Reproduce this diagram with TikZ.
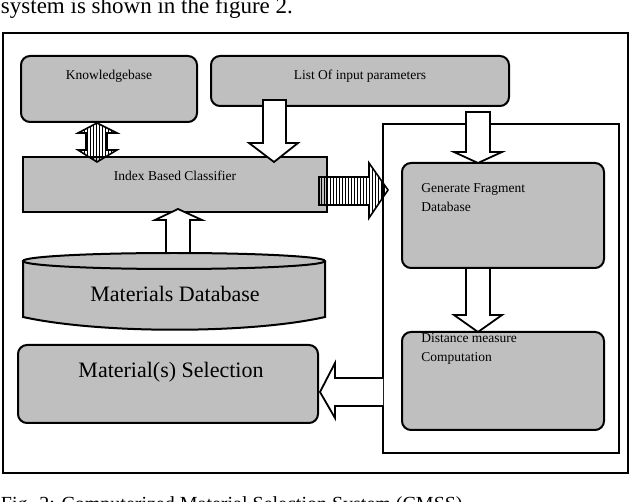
\documentclass[tikz,border=0pt]{standalone}
\usepackage{fontspec}
\setmainfont{Liberation Serif}
\usetikzlibrary{patterns}

\begin{document}
\begin{tikzpicture}[x=1pt,y=-1pt,line width=2pt,
  box/.style={draw,fill=black!25,rounded corners=9pt},
  small/.style={font=\fontsize{13.5}{19}\selectfont},
  big/.style={font=\fontsize{22}{24}\selectfont},
  blk/.style={draw,fill=white,line width=1.8pt,line join=miter},
  strp/.style={draw,pattern=vertical lines,line width=1.6pt}]
\useasboundingbox (0,0) rectangle (632,502);

% surrounding text
\node[anchor=base west,font=\fontsize{23}{25}\selectfont,inner sep=0] (top) at (0,14) {system is shown in the figure 2.};
\node[anchor=base west,font=\fontsize{20}{22}\selectfont,inner sep=0] (cap) at (0,510) {Fig. 2: Computerized Material Selection System (CMSS)};

% frames
\draw (3,33) rectangle (628,473);
\draw (383,124) rectangle (619,453);

% boxes
\draw[box] (21,56) rectangle (197,122);
\node[small] (kb) at (109,76) {Knowledgebase};
\draw[box] (211,56) rectangle (509,106);
\node[small] (lip) at (360,76) {List Of input parameters};
\draw[box,rounded corners=0] (23,157) rectangle (327,212);
\node[small] (ibc) at (175,176) {Index Based Classifier};
\draw[box] (402,163) rectangle (604,268);
\node[small,anchor=base west,align=left] (gen) at (417,212) {Generate Fragment\\Database};
\draw[box] (402,332) rectangle (604,430);
\node[small,anchor=base west,align=left] (dist) at (417,362) {Distance measure\\Computation};
\draw[box] (18,345) rectangle (318,423);
\node[big] (sel) at (171,372) {Material(s) Selection};

% database cylinder
\draw[fill=black!25] (23,261) -- (23,317) .. controls (100,334) and (250,334) .. (325,317) -- (325,261);
\draw[fill=black!25] (174,261) ellipse (151 and 8);
\node[big] (db) at (175,294) {Materials Database};

% block arrows
\draw[strp] (86,133) -- (78,133) -- (97,123) -- (117,133) -- (107,133) -- (107,150)
  -- (117,150) -- (97,162) -- (78,150) -- (86,150) -- cycle;
\draw[blk] (263,100) -- (263,143) -- (249,143) -- (274,162) -- (298,143) -- (286,143) -- (286,100) -- cycle;
\draw[blk] (166,253) -- (166,220) -- (155,220) -- (178,209) -- (202,220) -- (190,220) -- (190,253) -- cycle;
\draw[strp] (319,177) -- (369,177) -- (369,163) -- (388,190) -- (369,218) -- (369,205) -- (319,205) -- cycle;
\draw[blk] (466,112) -- (466,152) -- (454,152) -- (478,163) -- (502,152) -- (490,152) -- (490,112) -- cycle;
\draw[blk] (466,268) -- (466,315) -- (454,315) -- (478,332) -- (502,315) -- (490,315) -- (490,268) -- cycle;
\draw[blk] (383,378) -- (335,378) -- (335,363) -- (320,392) -- (335,418) -- (335,406) -- (383,406);
\end{tikzpicture}
\end{document}
